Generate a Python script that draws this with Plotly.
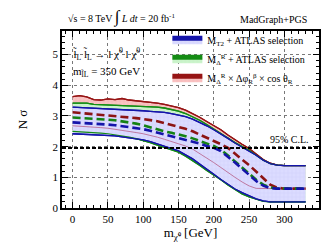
import plotly.graph_objects as go

x = [0, 10, 20, 30, 40, 50, 60, 70, 80, 90, 100, 110, 120, 130, 140, 150, 160, 170, 180, 190,
     200, 210, 220, 230, 240, 250, 260, 270, 280, 290, 300, 315, 330]

red_up = [3.63, 3.66, 3.62, 3.53, 3.52, 3.56, 3.53, 3.57, 3.52, 3.50, 3.48, 3.45, 3.42, 3.38, 3.33, 3.27, 3.19, 3.08, 2.96, 2.82,
          2.68, 2.55, 2.38, 2.22, 2.08, 1.94, 1.76, 1.58, 1.46, 1.40, 1.38, 1.38, 1.38]
red_mid = [3.12, 3.10, 3.08, 3.07, 3.05, 3.02, 3.00, 2.98, 2.96, 2.93, 2.90, 2.87, 2.83, 2.77, 2.71, 2.65, 2.58, 2.50, 2.40, 2.30,
           2.18, 2.08, 1.96, 1.76, 1.58, 1.40, 1.18, 0.95, 0.76, 0.66, 0.63, 0.63, 0.63]
red_low = [2.68, 2.67, 2.66, 2.64, 2.62, 2.60, 2.57, 2.54, 2.50, 2.46, 2.42, 2.37, 2.31, 2.24, 2.17, 2.10, 2.02, 1.92, 1.78, 1.62,
           1.48, 1.32, 1.15, 1.00, 0.85, 0.72, 0.64, 0.63, 0.63, 0.63, 0.63, 0.63, 0.63]

green_up = [3.42, 3.43, 3.42, 3.38, 3.37, 3.38, 3.36, 3.36, 3.34, 3.33, 3.32, 3.31, 3.29, 3.26, 3.22, 3.16, 3.08, 2.98, 2.86, 2.72,
            2.58, 2.44, 2.28, 2.13, 2.00, 1.88, 1.72, 1.56, 1.45, 1.40, 1.38, 1.38, 1.38]
green_mid = [2.95, 2.94, 2.93, 2.91, 2.90, 2.88, 2.86, 2.83, 2.79, 2.75, 2.70, 2.63, 2.56, 2.50, 2.45, 2.40, 2.34, 2.27, 2.19, 2.10,
             2.02, 1.90, 1.72, 1.52, 1.32, 1.12, 0.92, 0.76, 0.67, 0.63, 0.63, 0.63, 0.63]
green_low = [2.50, 2.49, 2.48, 2.46, 2.44, 2.42, 2.39, 2.35, 2.31, 2.26, 2.20, 2.13, 2.05, 1.97, 1.90, 1.82, 1.69, 1.55, 1.39, 1.22,
             1.08, 0.92, 0.75, 0.60, 0.46, 0.36, 0.28, 0.22, 0.20, 0.20, 0.20, 0.20, 0.20]

blue_up = [3.29, 3.28, 3.27, 3.25, 3.24, 3.22, 3.21, 3.20, 3.19, 3.18, 3.17, 3.15, 3.14, 3.12, 3.08, 3.04, 2.98, 2.90, 2.80, 2.68,
           2.55, 2.42, 2.27, 2.12, 1.99, 1.87, 1.72, 1.56, 1.45, 1.40, 1.38, 1.38, 1.38]
blue_mid = [2.79, 2.78, 2.77, 2.75, 2.74, 2.72, 2.70, 2.67, 2.64, 2.61, 2.57, 2.52, 2.46, 2.40, 2.35, 2.30, 2.24, 2.18, 2.10, 2.02,
            1.96, 1.86, 1.68, 1.48, 1.28, 1.08, 0.88, 0.73, 0.65, 0.63, 0.63, 0.63, 0.63]
blue_low = [2.42, 2.41, 2.40, 2.39, 2.38, 2.37, 2.35, 2.32, 2.29, 2.26, 2.22, 2.16, 2.09, 2.02, 1.95, 1.86, 1.73, 1.60, 1.43, 1.25,
            1.10, 0.93, 0.77, 0.62, 0.50, 0.40, 0.30, 0.23, 0.20, 0.20, 0.20, 0.20, 0.20]

cl95 = 1.96

names = ["M<sub>T2</sub> + ATLAS selection",
         "M<sub>Δ</sub><sup>R</sup> + ATLAS selection",
         "M<sub>Δ</sub><sup>R</sup> × Δφ<sub>R</sub><sup>β</sup> × cos θ<sub>R</sub>"]

SERIF = "Liberation Serif"

fig = go.Figure()

bands = [
    (red_low, red_up, red_mid, "rgb(150,20,20)", "rgb(250,195,195)", "rgb(235,150,150)", names[2], 3),
    (green_low, green_up, green_mid, "rgb(20,140,20)", "rgb(205,245,205)", "rgb(170,220,170)", names[1], 2),
    (blue_low, blue_up, blue_mid, "rgb(20,20,170)", "rgb(220,220,255)", "rgb(180,180,240)", names[0], 1),
]

for low, up, mid, lc, fc, pc, nm, rank in bands:
    fig.add_trace(go.Scatter(x=x, y=low, mode="lines", line=dict(color=lc, width=1.3),
                             showlegend=False, hoverinfo="skip"))
    fig.add_trace(go.Scatter(x=x, y=up, mode="lines", line=dict(color=lc, width=1.3),
                             fill="tonexty", fillcolor=fc,
                             fillpattern=dict(shape="+", bgcolor=fc, fgcolor=pc, size=4, solidity=0.15),
                             name=nm, legendrank=rank, hoverinfo="skip"))

# thin red lower edge visible through the blue band
fig.add_trace(go.Scatter(x=x, y=red_low, mode="lines", line=dict(color="rgb(190,120,160)", width=1),
                         showlegend=False, hoverinfo="skip"))
fig.add_trace(go.Scatter(x=x, y=green_low, mode="lines", line=dict(color="rgb(20,140,20)", width=1.2),
                         showlegend=False, hoverinfo="skip"))
fig.add_trace(go.Scatter(x=x, y=blue_low, mode="lines", line=dict(color="rgb(20,20,170)", width=1.3),
                         showlegend=False, hoverinfo="skip"))
for up, lc in [(red_up, "rgb(150,20,20)"), (green_up, "rgb(20,140,20)"), (blue_up, "rgb(20,20,170)")]:
    fig.add_trace(go.Scatter(x=x, y=up, mode="lines", line=dict(color=lc, width=1.3),
                             showlegend=False, hoverinfo="skip"))

for mid, lc in [(red_mid, "rgb(140,20,20)"), (green_mid, "rgb(20,130,20)"), (blue_mid, "rgb(20,20,170)")]:
    fig.add_trace(go.Scatter(x=x, y=mid, mode="lines", line=dict(color=lc, width=2.6, dash="8px,4px"),
                             showlegend=False, hoverinfo="skip"))

fig.add_shape(type="line", xref="paper", x0=0, x1=1, yref="y", y0=cl95, y1=cl95,
              line=dict(color="black", width=2, dash="4px,2px"))

axis_common = dict(showline=True, linecolor="black", linewidth=1.5, mirror="ticks",
                   ticks="inside", ticklen=6, tickwidth=1, tickcolor="black",
                   showgrid=True, gridcolor="rgb(120,120,120)", gridwidth=0.8, griddash="dot",
                   zeroline=False, tickfont=dict(family=SERIF, size=11, color="black"))

fig.update_xaxes(range=[-15, 349], dtick=50, tick0=0,
                 minor=dict(dtick=10, ticks="inside", ticklen=3, tickcolor="black", showgrid=False),
                 title=dict(text="m<sub>χ̃⁰</sub> [GeV]", font=dict(family=SERIF, size=13, color="black"),
                            standoff=4),
                 **axis_common)
fig.update_yaxes(range=[0, 5.77], dtick=1, tick0=0,
                 minor=dict(dtick=0.2, ticks="inside", ticklen=3, tickcolor="black", showgrid=False),
                 title=dict(text="N σ", font=dict(family=SERIF, size=13, color="black"), standoff=22),
                 **axis_common)

fig.add_annotation(xref="paper", yref="paper", x=0.23, y=1.0, yanchor="bottom", xanchor="center",
                   text="√s = 8 TeV <span style='font-size:17px'>∫</span> <i>L dt</i> = 20 fb<sup>-1</sup>",
                   showarrow=False, font=dict(family=SERIF, size=10, color="black"), yshift=2)
fig.add_annotation(xref="paper", yref="paper", x=0.96, y=1.0, yanchor="bottom", xanchor="right",
                   text="MadGraph+PGS", showarrow=False,
                   font=dict(family=SERIF, size=10, color="black"), yshift=4)
fig.add_annotation(xref="paper", yref="paper", x=0.035, y=0.87, xanchor="left", yanchor="middle",
                   text="l̃<sub>L</sub> l̃<sub>L</sub> → l χ̃<sup>0</sup> l χ̃<sup>0</sup>",
                   showarrow=False, font=dict(family=SERIF, size=11, color="black"))
fig.add_annotation(xref="paper", yref="paper", x=0.035, y=0.77, xanchor="left", yanchor="middle",
                   text="m<sub>l̃L</sub> = 350 GeV",
                   showarrow=False, font=dict(family=SERIF, size=11, color="black"))
fig.add_annotation(xref="paper", yref="y", x=0.97, y=cl95, xanchor="right", yanchor="bottom",
                   text="95% C.L.", showarrow=False, yshift=1,
                   font=dict(family=SERIF, size=10, color="black"))

fig.update_layout(
    width=332, height=243,
    margin=dict(l=54, r=21, t=23, b=43),
    plot_bgcolor="white", paper_bgcolor="white",
    showlegend=True,
    legend=dict(x=0.41, y=1.03, xanchor="left", yanchor="top", bgcolor="rgba(0,0,0,0)",
                font=dict(family=SERIF, size=10, color="black"), itemwidth=30,
                traceorder="normal", tracegroupgap=0, itemsizing="constant"),
)

fig.write_html("out.html")
